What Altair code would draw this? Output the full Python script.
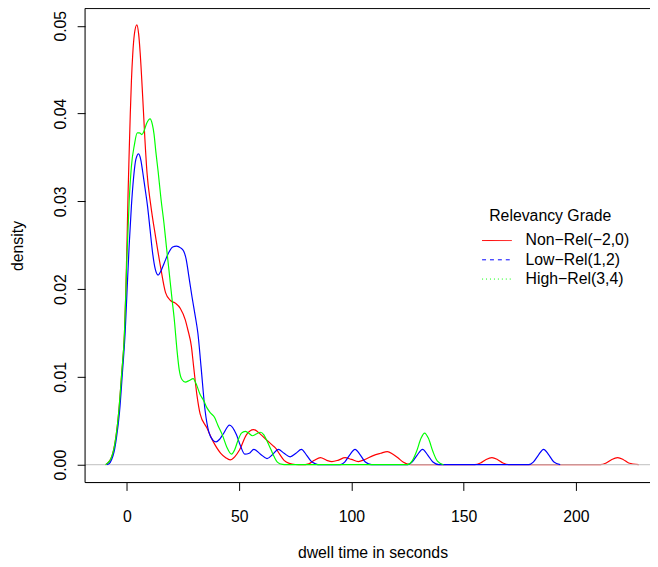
import altair as alt
import pandas as pd

FONT = "Liberation Sans"

# ---- data ----
series_names = ["Non\u2212Rel(\u22122,0)", "Low\u2212Rel(1,2)", "High\u2212Rel(3,4)"]
series_colors = ["#FF0000", "#0000FF", "#00FF00"]
legend_title = "Relevancy Grade"
x_ticks = [0, 50, 100, 150, 200]
y_ticks = [0.00, 0.01, 0.02, 0.03, 0.04, 0.05]

red_x = [-9.5, -8.5, -7.1, -6.0, -5.0, -3.65, -2.3, -1.1, -0.5, 0.0, 0.5, 1.0, 1.5, 2.0, 2.6, 3.3, 4.4,
         5.2, 5.9, 7.0, 8.0, 8.9, 10.6, 12.8, 15.0, 17.2, 19.4, 21.6, 23.8, 26.0, 27.1, 28.7, 29.7,
         31.2, 32.6, 35.6, 38.5, 41.8, 44.0, 46.0, 48.0, 50.2, 53.2, 56.4, 59.8, 62.7, 64.9, 66.5,
         68.0, 70.0, 72.3, 75.0, 78.0, 81.0, 83.5, 86.2, 89.0, 91.3, 94.0, 97.2, 100.0, 103.1, 106.0,
         109.7, 113.0, 116.0, 118.5, 120.7, 123.0, 125.5, 128.0, 155.0, 157.5, 160.0, 162.6, 165.0,
         167.5, 170.0, 211.0, 213.5, 216.0, 218.6, 221.0, 223.5, 228.0]
red_y = [0.0, 0.0002, 0.0007, 0.0016, 0.0030, 0.0060, 0.0105, 0.0150, 0.0197, 0.0250, 0.0308, 0.0356,
         0.0400, 0.0437, 0.0468, 0.0490, 0.0501, 0.0491, 0.0469, 0.0420, 0.0371, 0.0334, 0.0296,
         0.0259, 0.0225, 0.0196, 0.0187, 0.0184, 0.0178, 0.0165, 0.0154, 0.0135, 0.0112, 0.0079,
         0.0058, 0.0042, 0.0026, 0.0013, 0.0008, 0.00055, 0.0009, 0.0017, 0.0034, 0.0040, 0.0034,
         0.0027, 0.0022, 0.0018, 0.0012, 0.0005, 0.00015, 0.00002, 0.0, 0.0001, 0.0005, 0.0008,
         0.0005, 0.00036, 0.0005, 0.0008, 0.0006, 0.00036, 0.0006, 0.00104, 0.0013, 0.0015, 0.0012,
         0.0008, 0.0003, 0.00003, 0.0, 0.0, 0.0002, 0.0006, 0.0008, 0.0006, 0.0002, 0.0, 0.0, 0.0002,
         0.0006, 0.0008, 0.0006, 0.0002, 0.0]

blue_x = [-9.0, -8.0, -6.8, -5.7, -4.7, -3.3, -2.0, -0.8, 0.0, 1.0, 2.0, 3.0, 4.0, 5.2, 6.2, 7.0, 8.0,
          9.2, 10.3, 11.4, 12.6, 13.9, 15.2, 16.5, 18.7, 20.4, 22.1, 23.9, 25.3, 26.4, 27.5, 29.0,
          30.45, 31.6, 33.0, 34.8, 36.5, 38.3, 39.7, 41.3, 42.9, 45.7, 48.8, 50.5, 52.5, 54.5, 56.5,
          59.5, 62.4, 65.0, 67.4, 70.0, 72.7, 75.3, 77.7, 80.0, 82.0, 84.0, 86.0, 95.0, 97.0, 99.2,
          101.6, 104.0, 106.2, 109.0, 125.0, 127.0, 129.3, 131.7, 134.0, 136.3, 139.0, 179.0, 181.0,
          183.3, 185.6, 188.0, 190.2, 193.0]
blue_y = [0.0, 0.0001, 0.0006, 0.0015, 0.0030, 0.0060, 0.0105, 0.0150, 0.0195, 0.0250, 0.0295, 0.0328,
          0.0348, 0.0354, 0.0347, 0.0334, 0.0316, 0.0294, 0.0268, 0.0242, 0.0223, 0.0216, 0.0221,
          0.0229, 0.0242, 0.0248, 0.0249, 0.0247, 0.0243, 0.0234, 0.0216, 0.0191, 0.0169, 0.0150,
          0.0112, 0.0062, 0.0037, 0.0028, 0.0026, 0.0029, 0.0035, 0.0045, 0.0034, 0.0022, 0.0012,
          0.0013, 0.00175, 0.0012, 0.0007, 0.0012, 0.00175, 0.0013, 0.0009, 0.0013, 0.00175, 0.0011,
          0.0004, 0.0001, 0.0, 0.0, 0.0003, 0.0011, 0.00175, 0.0011, 0.0003, 0.0, 0.0, 0.0003, 0.0011,
          0.00175, 0.0011, 0.0003, 0.0, 0.0, 0.0003, 0.0011, 0.00175, 0.0011, 0.0003, 0.0]

green_x = [-9.5, -8.5, -7.1, -6.0, -5.0, -3.65, -2.3, -1.1, -0.5, 0.0, 1.0, 2.0, 3.3, 4.6, 5.6, 6.6, 7.6,
           8.8, 10.3, 11.3, 12.1, 12.9, 13.9, 15.2, 16.5, 17.6, 18.7, 20.2, 21.0, 22.4, 23.3, 24.5,
           26.0, 27.8, 29.5, 31.0, 32.6, 34.2, 35.6, 37.2, 39.0, 40.5, 42.5, 44.5, 46.6, 48.0, 49.5,
           51.0, 52.7, 54.2, 55.9, 57.6, 59.4, 61.0, 62.4, 64.2, 65.6, 67.0, 69.3, 71.0, 125.0, 127.0,
           129.0, 131.0, 132.6, 134.3, 136.3, 138.3, 141.0]
green_y = [0.0, 0.0002, 0.0007, 0.0016, 0.0030, 0.0060, 0.0105, 0.0150, 0.0195, 0.0237, 0.0300, 0.0340,
           0.0364, 0.0378, 0.0378, 0.0376, 0.0380, 0.0389, 0.0394, 0.0388, 0.0376, 0.0356, 0.0334,
           0.0302, 0.0275, 0.0248, 0.0222, 0.0186, 0.0168, 0.0128, 0.0108, 0.0097, 0.0094, 0.0096,
           0.0098, 0.0091, 0.0080, 0.0073, 0.0065, 0.0059, 0.0054, 0.0045, 0.0034, 0.0020, 0.0012,
           0.0017, 0.0028, 0.0036, 0.0038, 0.0036, 0.0033, 0.0035, 0.0037, 0.0034, 0.0027, 0.0017,
           0.0009, 0.0003, 0.00003, 0.0, 0.0, 0.0004, 0.0015, 0.0030, 0.0036, 0.0030, 0.0015, 0.0004,
           0.0]

# ---- layout ----
W, H = 572, 480
xs = alt.Scale(domain=[-18.66, 233.0], nice=False, zero=False)
ys = alt.Scale(domain=[-0.00203, 0.05197], nice=False, zero=False)

xaxis = alt.Axis(values=x_ticks, title="dwell time in seconds", domain=False, grid=False,
                 tickSize=8, tickColor="black", tickWidth=1,
                 labelFont=FONT, labelFontSize=16, labelColor="black", labelPadding=26,
                 labelBaseline="middle", labelFlush=False, labelOverlap=False,
                 titleFont=FONT, titleFontSize=16, titleFontWeight="normal", titleColor="black",
                 titleX=291, titleY=71, titleBaseline="middle", titleAlign="center")
yaxis = alt.Axis(values=y_ticks, format=".2f", title="density", domain=False, grid=False,
                 tickSize=8, tickColor="black", tickWidth=1,
                 labelFont=FONT, labelFontSize=16, labelColor="black", labelPadding=17,
                 labelAngle=270, labelAlign="center", labelBaseline="middle",
                 labelFlush=False, labelOverlap=False,
                 titleFont=FONT, titleFontSize=16, titleFontWeight="normal", titleColor="black",
                 titleX=-68, titleY=240, titleAngle=270, titleBaseline="middle", titleAlign="center")


def curve(xv, yv, color):
    df = pd.DataFrame({"x": xv, "y": yv})
    return alt.Chart(df).mark_line(color=color, strokeWidth=1.2, interpolate="monotone", clip=True).encode(
        x=alt.X("x:Q", scale=xs, axis=xaxis),
        y=alt.Y("y:Q", scale=ys, axis=yaxis),
    )


red = curve(red_x, red_y, series_colors[0])
blue = curve(blue_x, blue_y, series_colors[1])
green = curve(green_x, green_y, series_colors[2])

zero_line = alt.Chart(pd.DataFrame({"y": [0.0]})).mark_rule(color="#BEBEBE", strokeWidth=1).encode(
    y=alt.Y("y:Q", scale=ys, axis=yaxis), x=alt.value(0), x2=alt.value(W))

one = pd.DataFrame({"k": [0]})
box_top = alt.Chart(one).mark_rule(color="black", strokeWidth=1).encode(
    x=alt.value(0), x2=alt.value(W), y=alt.value(0))
box_bottom = alt.Chart(one).mark_rule(color="black", strokeWidth=1).encode(
    x=alt.value(0), x2=alt.value(W), y=alt.value(H))
box_left = alt.Chart(one).mark_rule(color="black", strokeWidth=1).encode(
    x=alt.value(0), y=alt.value(0), y2=alt.value(H))

# ---- legend ----
leg_layers = []
leg_layers.append(
    alt.Chart(pd.DataFrame({"t": [legend_title]})).mark_text(
        align="center", baseline="middle", font=FONT, fontSize=16, color="black").encode(
        text="t:N", x=alt.value(471), y=alt.value(210)))
dashes = [[1, 0], [4, 4], [1, 3]]
for i, (name, col) in enumerate(zip(series_names, series_colors)):
    yy = 235 + 19.5 * i
    leg_layers.append(
        alt.Chart(one).mark_rule(color=col, strokeWidth=1, strokeDash=dashes[i]).encode(
            x=alt.value(402), x2=alt.value(432), y=alt.value(yy)))
    leg_layers.append(
        alt.Chart(pd.DataFrame({"t": [name]})).mark_text(
            align="left", baseline="middle", font=FONT, fontSize=16, color="black").encode(
            text="t:N", x=alt.value(446), y=alt.value(yy)))

chart = alt.layer(red, zero_line, blue, green, box_top, box_bottom, box_left, *leg_layers).properties(
    width=W, height=H,
    autosize=alt.AutoSizeParams(type="none"),
    padding={"left": 78, "top": -3, "right": 0, "bottom": 75},
).configure_view(stroke=None).configure(background="white")

chart.save("out.html", embed_options={"renderer": "svg", "actions": False})
